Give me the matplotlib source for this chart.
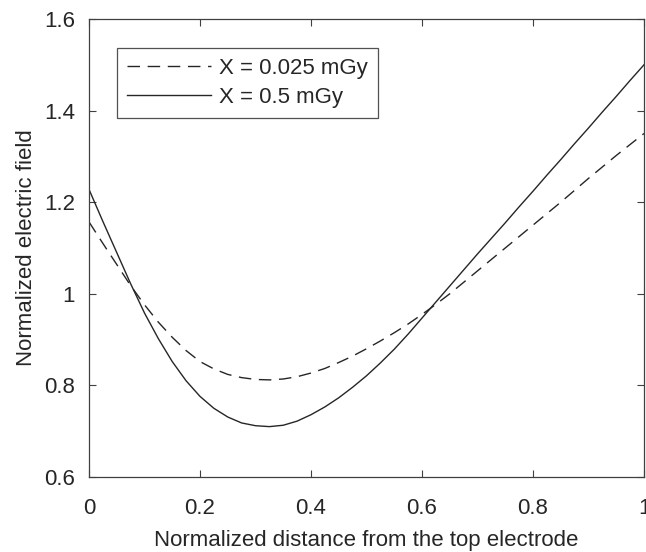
import matplotlib
matplotlib.use("Agg")
import matplotlib.pyplot as plt

plt.rcParams['font.family'] = ['Liberation Sans', 'DejaVu Sans']

x = [0.000, 0.025, 0.050, 0.075, 0.100, 0.125, 0.150, 0.175, 0.200, 0.225,
     0.250, 0.275, 0.300, 0.325, 0.350, 0.375, 0.400, 0.425, 0.450, 0.475,
     0.500, 0.525, 0.550, 0.575, 0.600, 0.625, 0.650, 0.675, 0.700, 0.725,
     0.750, 0.775, 0.800, 0.825, 0.850, 0.875, 0.900, 0.925, 0.950, 0.975, 1.000]
field_low = [1.157, 1.110, 1.064, 1.018, 0.976, 0.938, 0.905, 0.876, 0.852, 0.836,
             0.824, 0.817, 0.813, 0.812, 0.814, 0.819, 0.827, 0.837, 0.850, 0.864,
             0.880, 0.897, 0.915, 0.934, 0.955, 0.977, 1.000, 1.025, 1.050, 1.075,
             1.100, 1.125, 1.150, 1.175, 1.200, 1.226, 1.252, 1.277, 1.302, 1.326, 1.350]
field_high = [1.228, 1.158, 1.090, 1.022, 0.958, 0.902, 0.852, 0.810, 0.776, 0.750,
              0.731, 0.718, 0.712, 0.710, 0.713, 0.722, 0.736, 0.753, 0.773, 0.796,
              0.821, 0.849, 0.879, 0.912, 0.947, 0.982, 1.017, 1.052, 1.087, 1.121,
              1.155, 1.190, 1.224, 1.259, 1.293, 1.328, 1.362, 1.397, 1.431, 1.466, 1.500]
labels = ['X = 0.025 mGy', 'X = 0.5 mGy']
xticks = [0, 0.2, 0.4, 0.6, 0.8, 1]
xticklabels = ['0', '0.2', '0.4', '0.6', '0.8', '1']
yticks = [0.6, 0.8, 1.0, 1.2, 1.4, 1.6]
yticklabels = ['0.6', '0.8', '1', '1.2', '1.4', '1.6']

W, H = 646, 552
fig = plt.figure(figsize=(W / 100, H / 100), dpi=100)
ax = fig.add_axes([89 / W, (H - 477) / H, (644 - 89) / W, (477 - 19) / H])

lc = '#262626'
ax.plot(x, field_low, color=lc, lw=1.0, linestyle=(0, (9, 5.5)), label=labels[0])
ax.plot(x, field_high, color=lc, lw=1.0, linestyle='-', label=labels[1])

ax.set_xlim(0, 1)
ax.set_ylim(0.6, 1.6)
ax.set_xticks(xticks)
ax.set_xticklabels(xticklabels)
ax.set_yticks(yticks)
ax.set_yticklabels(yticklabels)

fs = 16
tc = '#262626'
for s in ax.spines.values():
    s.set_color('#404040')
    s.set_linewidth(0.9)
ax.tick_params(direction='in', length=5, width=0.8, colors='#404040',
               labelcolor=tc, labelsize=fs, top=True, right=True)
ax.tick_params(axis='x', pad=15)
ax.tick_params(axis='y', pad=10)

ax.set_xlabel('Normalized distance from the top electrode', fontsize=fs, color=tc, labelpad=8)
ax.set_ylabel('Normalized electric field', fontsize=fs, color=tc, labelpad=5)

leg = ax.legend(loc='upper left', bbox_to_anchor=((117 - 89) / 555, 1 - (48 - 19) / 458),
                frameon=True, fancybox=False, fontsize=fs, handlelength=3.8,
                borderaxespad=0, labelspacing=0.35, handletextpad=0.35,
                borderpad=0.45)
leg.get_frame().set_edgecolor('#262626')
leg.get_frame().set_linewidth(0.9)
for t in leg.get_texts():
    t.set_color(tc)

fig.savefig('out.png', dpi=100)
